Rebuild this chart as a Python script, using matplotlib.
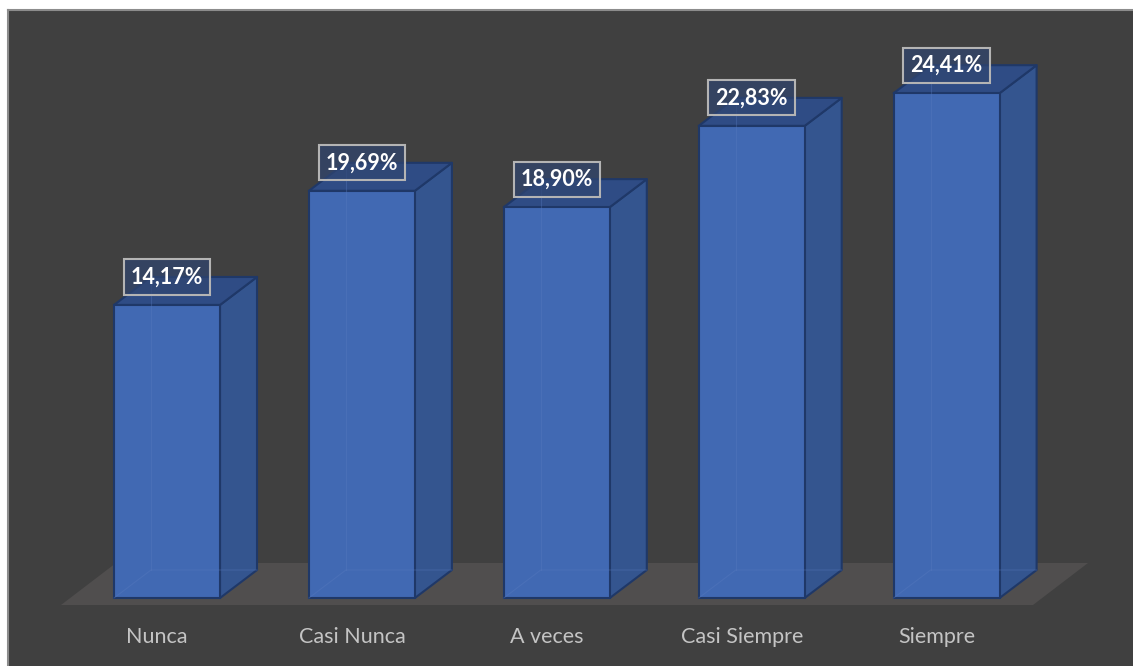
import matplotlib
matplotlib.use("Agg")
import matplotlib.pyplot as plt
from matplotlib.patches import Polygon, Rectangle

# ---- data ----
categories = ["Nunca", "Casi Nunca", "A veces", "Casi Siempre", "Siempre"]
values = [14.17, 19.69, 18.90, 22.83, 24.41]
value_labels = ["14,17%", "19,69%", "18,90%", "22,83%", "24,41%"]

# ---- style ----
BG = "#404040"
FLOOR = "#504e4e"
FRONT = "#4169b3"
SIDE = "#34558f"
TOP = "#2f4c85"
EDGE = "#1f3868"
TXT = "#c4c4c4"
FONT = ["Lato", "DejaVu Sans"]

W, H = 1133, 666
fig = plt.figure(figsize=(W / 100, H / 100), dpi=100)
fig.patch.set_facecolor("white")

# dark chart area with thin gray border
bgax = fig.add_axes([8 / W, 0, 1 - 8 / W, 1 - 10 / H])
bgax.set_facecolor(BG)
bgax.set_xticks([]); bgax.set_yticks([])
for s in ["left", "top"]:
    bgax.spines[s].set_color("#8c8c8c"); bgax.spines[s].set_linewidth(1.5)
for s in ["right", "bottom"]:
    bgax.spines[s].set_visible(False)

ax = fig.add_axes([0, 0, 1, 1])
ax.set_facecolor("none")
ax.axis("off")
px_cat = 194.9   # pixels per category
px_val = 20.68   # pixels per percent
x0_px, y0_px = 167, 598
ax.set_xlim(-x0_px / px_cat, (W - x0_px) / px_cat)
ax.set_ylim(-(H - y0_px) / px_val, y0_px / px_val)

hw = 53 / px_cat          # half width of bar
dx = 37 / px_cat          # depth offset x
dy = 28 / px_val          # depth offset y

# floor
fb = -7 / px_val
ft = 35 / px_val
floor = Polygon([(-106 / px_cat, fb), (866 / px_cat, fb),
                 (921 / px_cat, ft), (-51 / px_cat, ft)],
                closed=True, facecolor=FLOOR, edgecolor="none", zorder=1)
ax.add_patch(floor)

for i, (v, lab) in enumerate(zip(values, value_labels)):
    xl, xr = i - hw, i + hw
    side = Polygon([(xr, 0), (xr + dx, dy), (xr + dx, v + dy), (xr, v)],
                   closed=True, facecolor=SIDE, edgecolor=EDGE, lw=1.5,
                   joinstyle="round", zorder=2)
    top = Polygon([(xl, v), (xr, v), (xr + dx, v + dy), (xl + dx, v + dy)],
                  closed=True, facecolor=TOP, edgecolor=EDGE, lw=1.5,
                  joinstyle="round", zorder=2)
    front = Rectangle((xl, 0), 2 * hw, v, facecolor=FRONT, edgecolor=EDGE,
                      lw=1.5, zorder=3)
    ax.add_patch(side); ax.add_patch(top); ax.add_patch(front)
    # faint hidden edges visible through the translucent bar
    ax.plot([xl, xl + dx, xr + dx], [0, dy, dy], color="#5a7cc0", lw=0.8,
            alpha=0.35, zorder=4)
    ax.plot([xl + dx, xl + dx], [dy, v + dy], color="#5a7cc0", lw=0.8,
            alpha=0.35, zorder=4)

    ax.text(i, v + dy, lab, ha="center", va="center", color="white",
            fontsize=15.5, fontweight="bold", family=FONT, zorder=6,
            bbox=dict(boxstyle="square,pad=0.33", facecolor=(0.19, 0.27, 0.44, 0.7),
                      edgecolor="#b4b4b4", lw=1.5))
    ax.text(i - 10 / px_cat, -39 / px_val, categories[i], ha="center", va="center",
            color=TXT, fontsize=15.5, family=FONT, zorder=6)

fig.savefig("out.png", dpi=100, facecolor=fig.get_facecolor())
